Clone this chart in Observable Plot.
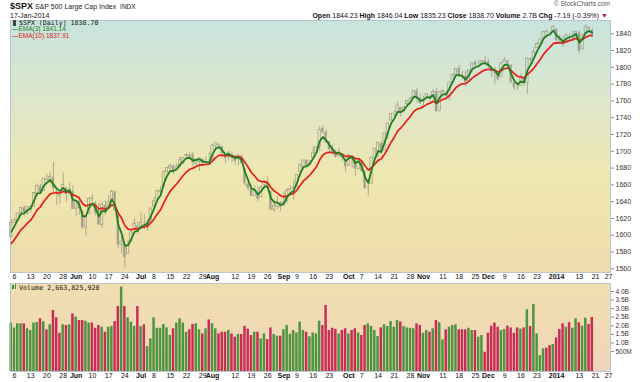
<!DOCTYPE html>
<html><head><meta charset="utf-8">
<script src="https://cdn.jsdelivr.net/npm/d3@7"></script>
<script src="https://cdn.jsdelivr.net/npm/@observablehq/plot@0.6"></script>
<style>
body{margin:0;background:#fff;font-family:"Liberation Sans",Arial,sans-serif;}
#wrap{position:relative;width:640px;height:382px;overflow:hidden;background:#fff;}
.abs{position:absolute;white-space:nowrap;line-height:1;}
.mono{font-family:"DejaVu Sans Mono",monospace;}
</style></head><body>
<div id="wrap">
  <div class="abs" style="left:10px;top:1.5px;font-size:9px;font-weight:bold;color:#111">$SPX</div>
  <div class="abs" style="left:35px;top:3px;font-size:7px;color:#222">S&amp;P 500 Large Cap Index&nbsp;&nbsp;<span style="font-size:6.5px">INDX</span></div>
  <div class="abs" style="left:10px;top:11.5px;font-size:7px;color:#111">17-Jan-2014</div>
  <div class="abs" style="right:30px;top:1px;font-size:6.5px;color:#555">© StockCharts.com</div>
  <div class="abs" id="stats" style="right:32px;top:11.5px;font-size:7px;color:#111"></div>
  <div id="main" class="abs" style="left:0;top:20px"></div>
  <div id="vol" class="abs" style="left:0;top:283px"></div>
  <div class="abs" style="left:13px;top:20px;width:3px;height:6px;background:#444"></div>
  <div class="abs mono" id="lgPrice" style="left:19px;top:19.5px;font-size:6.6px;color:#111"></div>
  <div class="abs" id="lgE3" style="left:12px;top:26px;font-size:6.5px;color:#1b7d1b"></div>
  <div class="abs" id="lgE10" style="left:12px;top:32.5px;font-size:6.5px;color:#e0201c"></div>
  <div class="abs" style="left:12px;top:285px;width:1.5px;height:4px;background:#3d8a35"></div>
  <div class="abs" style="left:14.5px;top:283.5px;width:1.5px;height:5.5px;background:#3d8a35"></div>
  <div class="abs mono" id="lgVol" style="left:19px;top:284.5px;font-size:6.7px;color:#111"></div>
</div>
<script>
// ---- data ----
const tradingDayGroups = [
  ["2013-05", [3,6,7,8,9,10,13,14,15,16,17,20,21,22,23,24,28,29,30,31]],
  ["2013-06", [3,4,5,6,7,10,11,12,13,14,17,18,19,20,21,24,25,26,27,28]],
  ["2013-07", [1,2,3,5,8,9,10,11,12,15,16,17,18,19,22,23,24,25,26,29,30,31]],
  ["2013-08", [1,2,5,6,7,8,9,12,13,14,15,16,19,20,21,22,23,26,27,28,29,30]],
  ["2013-09", [3,4,5,6,9,10,11,12,13,16,17,18,19,20,23,24,25,26,27,30]],
  ["2013-10", [1,2,3,4,7,8,9,10,11,14,15,16,17,18,21,22,23,24,25,28,29,30,31]],
  ["2013-11", [1,4,5,6,7,8,11,12,13,14,15,18,19,20,21,22,25,26,27,29]],
  ["2013-12", [2,3,4,5,6,9,10,11,12,13,16,17,18,19,20,23,24,26,27,30,31]],
  ["2014-01", [2,3,6,7,8,9,10,13,14,15,16,17,21,22,23,24,27]]
];
const open = [
1597.60,1614.40,1617.55,1625.95,1632.69,1626.69,1632.10,1633.75,1649.13,1658.07,1652.45,1665.71,1666.20,1669.39,1651.62,1646.67,1652.63,1656.57,1649.14,1652.13,
1631.71,1640.73,1629.05,1609.29,1625.27,1644.67,1638.64,1629.94,1612.15,1635.52,1630.64,1639.77,1651.83,1624.62,1588.62,1588.77,1577.52,1592.27,1606.44,1611.12,
1609.78,1614.29,1611.48,1618.65,1634.20,1642.89,1651.56,1657.41,1675.26,1679.59,1682.70,1677.91,1681.05,1686.15,1694.41,1695.53,1696.06,1685.21,1687.31,1690.32,1687.92,1687.76,
1689.42,1706.10,1708.01,1705.79,1695.30,1693.35,1696.10,1688.37,1690.65,1693.88,1679.61,1661.22,1655.25,1646.81,1650.66,1645.03,1659.92,1664.29,1652.54,1630.25,1633.50,1638.89,
1635.95,1640.72,1653.28,1657.44,1656.85,1675.11,1681.04,1689.21,1685.04,1691.70,1697.73,1705.74,1727.34,1722.44,1711.44,1702.60,1698.02,1694.05,1695.52,1687.26,
1682.41,1691.90,1692.35,1678.79,1687.15,1676.22,1656.99,1660.88,1691.09,1699.86,1709.17,1700.49,1720.17,1736.72,1745.20,1746.48,1752.27,1747.48,1756.01,1759.42,1762.93,1772.27,1763.24,
1758.70,1763.40,1765.67,1765.00,1770.74,1748.37,1769.96,1769.51,1764.37,1782.75,1790.66,1798.82,1790.79,1789.59,1783.52,1797.21,1806.33,1802.87,1803.48,1808.01,
1806.55,1800.10,1794.15,1792.82,1788.36,1806.21,1807.60,1802.76,1781.71,1776.02,1777.48,1786.47,1781.46,1809.00,1810.39,1822.92,1828.02,1834.96,1842.97,1841.47,1842.61,
1845.86,1833.21,1832.31,1828.71,1837.90,1839.00,1840.06,1841.26,1821.36,1840.52,1847.99,1844.23];
const high = [
1618.46,1619.77,1626.03,1632.78,1635.01,1633.70,1636.00,1651.10,1661.49,1660.51,1667.47,1672.84,1674.93,1687.18,1655.50,1649.78,1674.21,1656.57,1661.91,1658.99,
1640.42,1646.53,1629.31,1622.56,1644.40,1648.69,1640.13,1637.71,1639.25,1640.80,1646.50,1654.19,1652.45,1624.62,1599.19,1588.77,1593.79,1606.83,1620.07,1615.94,
1626.61,1624.26,1618.97,1632.07,1644.68,1654.18,1657.92,1676.63,1680.19,1684.51,1683.73,1684.75,1693.12,1692.09,1697.61,1698.78,1698.38,1690.94,1691.85,1690.92,1693.19,1698.43,
1707.85,1709.67,1709.24,1705.79,1695.30,1700.18,1699.42,1691.49,1696.81,1695.52,1679.61,1663.60,1659.18,1658.92,1656.99,1659.55,1664.85,1669.51,1652.54,1641.18,1646.41,1640.08,
1651.35,1655.72,1659.17,1664.83,1672.40,1684.09,1689.13,1689.97,1688.73,1704.95,1705.52,1729.44,1729.86,1725.23,1711.44,1707.63,1701.71,1703.85,1695.52,1687.26,
1696.55,1693.87,1692.35,1691.94,1687.15,1676.79,1662.47,1692.56,1703.44,1711.03,1711.57,1721.76,1733.45,1745.31,1747.79,1759.33,1752.27,1753.94,1759.82,1764.99,1772.09,1775.22,1768.53,
1765.67,1768.78,1767.03,1773.74,1774.54,1770.78,1773.44,1771.78,1782.00,1791.53,1798.22,1802.33,1795.51,1795.73,1797.16,1804.84,1808.10,1808.42,1808.27,1813.55,
1810.02,1800.10,1799.80,1792.82,1806.04,1811.52,1808.52,1802.97,1782.99,1780.92,1792.22,1786.77,1811.08,1810.88,1823.75,1829.75,1833.32,1842.84,1844.89,1842.47,1849.44,
1845.86,1838.24,1837.16,1840.10,1840.02,1843.23,1843.15,1843.45,1839.26,1850.84,1847.99,1846.04];
const low = [
1597.60,1614.21,1616.64,1622.70,1623.09,1623.71,1626.74,1633.75,1646.68,1648.60,1652.45,1663.52,1662.67,1648.86,1635.53,1636.88,1652.63,1640.05,1648.61,1630.74,
1622.72,1623.62,1607.09,1598.23,1625.27,1639.26,1622.92,1610.92,1608.07,1623.96,1630.34,1639.77,1628.91,1584.32,1577.70,1560.33,1577.09,1592.27,1606.44,1601.06,
1609.78,1606.77,1604.57,1614.71,1634.20,1642.89,1647.66,1657.41,1672.33,1677.89,1671.84,1677.91,1681.05,1684.08,1690.67,1691.13,1682.57,1680.07,1676.03,1681.86,1682.42,1684.94,
1689.42,1700.68,1701.63,1693.29,1684.91,1688.38,1686.02,1683.35,1682.62,1684.83,1658.59,1652.61,1645.84,1646.08,1639.43,1645.03,1654.81,1656.02,1629.05,1627.47,1630.88,1628.05,
1633.41,1637.41,1653.07,1640.62,1656.85,1675.11,1678.70,1681.96,1682.22,1691.70,1697.73,1700.35,1720.20,1708.89,1697.10,1694.90,1691.88,1693.11,1687.11,1674.99,
1682.07,1680.34,1670.36,1677.33,1674.70,1655.03,1646.47,1660.88,1688.52,1692.13,1695.93,1700.49,1714.12,1735.74,1740.67,1746.48,1740.50,1745.50,1752.45,1757.67,1762.93,1757.24,1755.72,
1752.70,1761.56,1755.76,1764.40,1746.20,1746.63,1767.85,1762.29,1760.64,1780.22,1790.66,1788.00,1784.72,1777.23,1783.52,1794.70,1800.58,1800.77,1802.77,1803.98,
1798.60,1787.85,1779.09,1783.38,1788.36,1806.21,1801.75,1780.09,1772.28,1772.45,1777.48,1777.05,1767.99,1801.35,1810.25,1822.92,1828.02,1834.96,1839.81,1838.77,1842.41,
1827.74,1829.13,1823.73,1828.71,1831.40,1830.38,1832.43,1815.52,1821.36,1840.52,1840.30,1835.23];
const close = [
1614.42,1617.50,1625.96,1632.69,1626.67,1633.70,1633.77,1650.34,1658.78,1650.47,1667.47,1666.29,1669.16,1655.35,1650.51,1649.60,1660.06,1648.36,1654.41,1630.74,
1640.42,1631.38,1608.90,1622.56,1643.38,1642.81,1626.13,1612.52,1636.36,1626.73,1639.04,1651.81,1628.93,1588.19,1592.43,1573.09,1588.03,1603.26,1613.20,1606.28,
1614.96,1614.08,1615.41,1631.89,1640.46,1652.32,1652.62,1675.02,1680.19,1682.50,1676.26,1680.91,1689.37,1692.09,1695.53,1692.39,1685.94,1690.25,1691.65,1685.33,1685.96,1685.73,
1706.87,1709.67,1707.14,1697.37,1690.91,1697.48,1691.42,1689.47,1694.16,1685.39,1661.32,1655.83,1646.06,1652.35,1642.80,1656.96,1663.50,1656.78,1630.48,1634.96,1638.17,1632.97,
1639.77,1653.08,1655.08,1655.17,1671.71,1683.99,1689.13,1683.42,1687.99,1697.60,1704.76,1725.52,1722.34,1709.91,1701.84,1697.42,1692.77,1698.67,1691.75,1681.55,
1695.00,1693.87,1678.66,1690.50,1676.12,1655.45,1656.40,1692.56,1703.20,1710.14,1698.06,1721.54,1733.15,1744.50,1744.66,1754.67,1746.38,1752.07,1759.77,1762.11,1771.95,1763.31,1756.54,
1761.64,1767.93,1762.97,1770.49,1747.15,1770.61,1771.89,1767.69,1782.00,1790.62,1798.18,1791.53,1787.87,1781.37,1795.85,1804.76,1802.48,1802.75,1807.23,1805.81,
1800.90,1795.15,1792.81,1785.03,1805.09,1808.37,1802.62,1782.22,1775.50,1775.32,1786.54,1781.00,1810.65,1809.60,1818.32,1827.99,1833.32,1842.02,1841.40,1841.07,1848.36,
1831.98,1831.37,1826.77,1837.88,1837.49,1838.13,1842.37,1819.20,1838.88,1848.38,1845.89,1838.70];
// volume in billions of shares
const volume = [
2.33,2.05,2.29,2.29,2.29,2.00,1.90,2.33,2.37,2.58,2.41,1.94,2.23,3.07,2.64,1.74,2.23,2.19,2.23,2.87,
2.68,2.48,2.48,2.44,2.33,2.33,2.03,2.19,2.09,1.80,2.09,2.13,2.42,3.30,4.43,3.30,2.64,2.39,2.13,3.30,
2.13,2.23,0.96,1.41,2.64,2.03,2.03,2.25,2.05,1.61,2.00,2.33,2.58,2.33,1.80,1.94,2.25,2.29,1.94,1.70,2.00,2.52,
2.29,2.00,1.70,1.80,1.80,1.90,1.70,1.51,1.67,1.67,2.15,1.98,1.61,1.80,1.80,1.41,1.70,1.37,2.05,1.67,1.57,1.57,
1.94,2.19,1.67,1.90,1.76,2.39,1.90,1.80,1.53,1.76,1.70,2.44,2.19,3.36,1.90,2.03,1.96,1.70,1.90,2.00,
1.70,1.90,2.00,1.76,1.61,2.19,2.29,2.13,1.90,1.55,2.05,2.23,2.13,2.42,2.09,2.48,2.40,2.13,2.05,2.03,2.00,2.29,2.19,
1.74,1.90,1.80,2.00,2.48,2.35,1.35,1.94,2.09,2.19,2.23,1.94,1.94,1.94,2.03,1.90,1.90,1.51,1.61,0.63,
1.74,2.15,2.33,2.09,1.90,1.96,2.15,2.05,1.74,2.05,1.98,2.05,3.11,2.13,3.42,1.70,0.44,0.83,0.87,1.02,1.08,
1.47,1.96,2.29,2.09,2.35,2.03,2.58,2.35,2.15,2.62,2.25,2.66];
// EMA starting levels read at the left edge of the chart
const ema3Start = 1604;
const ema10Start = 1590;
const tickDates = ["2013-05-06","2013-05-13","2013-05-20","2013-05-28","2013-06-03","2013-06-10","2013-06-17","2013-06-24","2013-07-01","2013-07-08","2013-07-15","2013-07-22","2013-07-29","2013-08-01","2013-08-12","2013-08-19","2013-08-26","2013-09-03","2013-09-09","2013-09-16","2013-09-23","2013-10-01","2013-10-07","2013-10-14","2013-10-21","2013-10-28","2013-11-01","2013-11-11","2013-11-18","2013-11-25","2013-12-02","2013-12-09","2013-12-16","2013-12-23","2014-01-02","2014-01-13","2014-01-21","2014-01-27"];
const tickLabels = ["6","13","20","28","Jun","10","17","24","Jul","8","15","22","29","Aug","12","19","26","Sep","9","16","23","Oct","7","14","21","28","Nov","11","18","25","Dec","9","16","23","2014","13","21","27"];
const priceTicks = [1560,1580,1600,1620,1640,1660,1680,1700,1720,1740,1760,1780,1800,1820,1840];
const volumeTicks = [0.5,1.0,1.5,2.0,2.5,3.0,3.5,4.0];
const legend = {symbol: "$SPX", last: "1838.70", ema3: "1841.14", ema10: "1837.91", volume: "2,663,825,920"};
const stats = [["Open","1844.23"],["High","1846.04"],["Low","1835.23"],["Close","1838.70"],["Volume","2.7B"],["Chg","-7.19 (-0.39%)"]];

// ---- derived ----
const tradingDays = tradingDayGroups.flatMap(([m, ds]) => ds.map(d => `${m}-${String(d).padStart(2,"0")}`));
function ema(values, period, start) {
  const a = 2 / (period + 1); const out = [start];
  for (let i = 1; i < values.length; i++) out.push(out[i-1] + a * (values[i] - out[i-1]));
  return out;
}
const e3 = ema(close, 3, ema3Start), e10 = ema(close, 10, ema10Start);
const rows = close.map((c, k) => ({
  k, date: tradingDays[k], open: open[k], high: high[k], low: low[k], close: c, volume: volume[k],
  ema3: e3[k], ema10: e10[k],
  hollow: c >= open[k],
  up: k === 0 ? c >= open[k] : c >= close[k-1]
}));
const ticks = tickDates.map((d, j) => ({k: tradingDays.indexOf(d), label: tickLabels[j], bold: !/^\d{1,2}$/.test(tickLabels[j])}));

const xDomain = [-0.23, 184.61];
const W = 640, ML = 10, MR = 30;
const font = "Liberation Sans, Arial, sans-serif";
const candle = "#9d9a88";
const half = 0.36;

function addGradient(svg, id, stops) {
  const defs = d3.select(svg).insert("defs", ":first-child");
  const g = defs.append("linearGradient").attr("id", id).attr("x1", 0).attr("y1", 0).attr("x2", 0).attr("y2", 1);
  stops.forEach(([o, c]) => g.append("stop").attr("offset", o).attr("stop-color", c));
}
function dateLabels(bold) {
  return Plot.text(ticks.filter(t => t.bold === bold), {x: "k", text: "label", frameAnchor: "bottom", dy: 6, fontSize: 7, fontWeight: bold ? "bold" : "normal", fill: "#111"});
}

const main = Plot.plot({
  width: W, height: 263, marginLeft: ML, marginRight: MR, marginTop: 0, marginBottom: 11,
  style: {fontFamily: font, fontSize: "7px", background: "#fff", color: "#333", overflow: "visible"},
  x: {domain: xDomain, axis: null},
  y: {domain: [1555.6, 1855.8], axis: null},
  marks: [
    Plot.frame({fill: "url(#gMain)", stroke: null}),
    Plot.axisY({anchor: "right", label: null, ticks: priceTicks, tickSize: 3, tickPadding: 2, tickFormat: d => String(d), fontSize: 7, stroke: "#7890a0"}),
    Plot.ruleX(rows, {x: "k", y1: "high", y2: d => Math.max(d.open, d.close), stroke: candle, strokeWidth: 0.8}),
    Plot.ruleX(rows, {x: "k", y1: d => Math.min(d.open, d.close), y2: "low", stroke: candle, strokeWidth: 0.8}),
    Plot.rect(rows.filter(d => !d.hollow), {x1: d => d.k - half, x2: d => d.k + half, y1: "open", y2: "close", fill: "#a29f8c"}),
    Plot.rect(rows.filter(d => d.hollow), {x1: d => d.k - half, x2: d => d.k + half, y1: "open", y2: "close", fill: "none", stroke: candle, strokeWidth: 0.7}),
    Plot.line(rows, {x: "k", y: "ema10", stroke: "#e4201c", strokeWidth: 1.7}),
    Plot.line(rows, {x: "k", y: "ema3", stroke: "#1f7f1f", strokeWidth: 1.8}),
    Plot.frame({stroke: "#a9bccb", strokeWidth: 0.8}),
    dateLabels(false), dateLabels(true)
  ]
});
addGradient(main, "gMain", [["0%","#c7e4dd"],["30%","#dde6cc"],["62%","#efe7b0"],["100%","#efdcac"]]);
document.getElementById("main").append(main);

const volDomain = [-0.49, 4.64];
const vol = Plot.plot({
  width: W, height: 99, marginLeft: ML, marginRight: MR, marginTop: 0, marginBottom: 11,
  style: {fontFamily: font, fontSize: "6.5px", background: "#fff", color: "#333", overflow: "visible"},
  x: {domain: xDomain, axis: null},
  y: {domain: volDomain, axis: null},
  marks: [
    Plot.frame({fill: "url(#gVol)", stroke: null}),
    Plot.axisY({anchor: "right", label: null, ticks: volumeTicks, tickSize: 3, tickPadding: 2, dy: -3, tickFormat: v => v < 1 ? "500M" : v.toFixed(1) + "B", fontSize: 6.5, stroke: "#7890a0"}),
    Plot.rect(rows, {x1: d => d.k - 0.38, x2: d => d.k + 0.38, y1: volDomain[0], y2: "volume", fill: d => d.up ? "#4e9340" : "#c82d57"}),
    Plot.frame({stroke: "#a9bccb", strokeWidth: 0.8}),
    dateLabels(false), dateLabels(true)
  ]
});
addGradient(vol, "gVol", [["0%","#f0deb0"],["100%","#f0d6b8"]]);
document.getElementById("vol").append(vol);

// ---- text legends ----
document.getElementById("stats").innerHTML = stats.map(([k, v]) => `<b>${k}</b> ${v}`).join(" ") + ' <span style="color:#c0203c">▼</span>';
document.getElementById("lgPrice").textContent = `${legend.symbol} (Daily) ${legend.last}`;
document.getElementById("lgE3").textContent = `—EMA(3) ${legend.ema3}`;
document.getElementById("lgE10").textContent = `—EMA(10) ${legend.ema10}`;
document.getElementById("lgVol").textContent = `Volume ${legend.volume}`;
</script>
</body></html>
